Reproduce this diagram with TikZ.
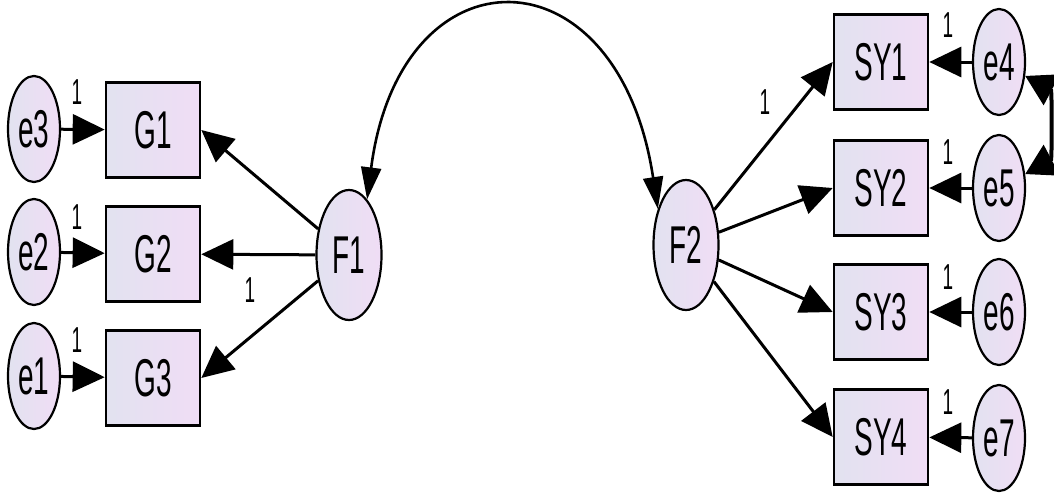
\documentclass[tikz,border=0pt]{standalone}
\usepackage{fontspec}
\setmainfont{Liberation Sans}
\usepackage{graphicx}
\usetikzlibrary{arrows.meta,shapes.geometric}
\definecolor{fillL}{RGB}{226,226,240}
\definecolor{fillR}{RGB}{240,221,245}
\newcommand\tx[1]{\scalebox{1}[1.9]{#1}}
\tikzset{
  obs/.style={draw=black,line width=2.6pt,minimum width=94pt,minimum height=95pt,inner sep=0pt,
    left color=fillL,right color=fillR,font=\fontsize{28}{28}\selectfont},
  lat/.style={ellipse,draw=black,line width=2.2pt,minimum width=65pt,minimum height=130pt,inner sep=0pt,
    left color=fillL,right color=fillR,font=\fontsize{28}{28}\selectfont},
  err/.style={ellipse,draw=black,line width=2.2pt,minimum width=52pt,minimum height=106pt,inner sep=0pt,
    left color=fillL,right color=fillR,font=\fontsize{28}{28}\selectfont},
  path/.style={line width=3pt,-{Triangle[length=32pt,width=30pt]}},
  cov/.style={line width=2.6pt,{Triangle[length=32pt,width=20pt]}-{Triangle[length=32pt,width=20pt]}},
  cov2/.style={line width=4pt,{Triangle[length=30pt,width=34pt]}-{Triangle[length=30pt,width=34pt]}},
  one/.style={font=\fontsize{19}{19}\selectfont,inner sep=0pt}
}
\begin{document}
\begin{tikzpicture}[x=1pt,y=-1pt]
\useasboundingbox (0,0) rectangle (1054,493);
\clip (0,0) rectangle (1054,493);
% observed left
\node[obs] (G1) at (153,130) {\tx{G1}};
\node[obs] (G2) at (153,254) {\tx{G2}};
\node[obs] (G3) at (153,378) {\tx{G3}};
\node[err] (e3) at (34,129) {\tx{e3}};
\node[err] (e2) at (34,252) {\tx{e2}};
\node[err] (e1) at (34,376) {\tx{e1}};
\node[lat] (F1) at (349,255) {\tx{F1}};
% right
\node[obs] (SY1) at (881,62) {\tx{SY1}};
\node[obs] (SY2) at (881,188) {\tx{SY2}};
\node[obs] (SY3) at (881,312) {\tx{SY3}};
\node[obs] (SY4) at (881,437) {\tx{SY4}};
\node[err] (e4) at (999,62) {\tx{e4}};
\node[err] (e5) at (999,188) {\tx{e5}};
\node[err] (e6) at (999,312) {\tx{e6}};
\node[err] (e7) at (999,438) {\tx{e7}};
\node[lat] (F2) at (686,245) {\tx{F2}};
% paths
\draw[path] (e3) -- (G1);
\draw[path] (e2) -- (G2);
\draw[path] (e1) -- (G3);
\draw[path] (F1) -- (G1.east);
\draw[path] (F1) -- (G2);
\draw[path] (F1) -- (G3.east);
\draw[path] (F2) -- (SY1.west);
\draw[path] (F2) -- (SY2.west);
\draw[path] (F2) -- (SY3.west);
\draw[path] (F2) -- (SY4.west);
\draw[path] (e4) -- (SY1);
\draw[path] (e5) -- (SY2);
\draw[path] (e6) -- (SY3);
\draw[path] (e7) -- (SY4);
% covariances
\draw[cov] (F1.72) .. controls (400,-55) and (618,-55) .. (F2.128);
\draw[cov2] (e4.-28) .. controls (1052,90) and (1052,160) .. (e5.28);
% labels
\node[one] (l1) at (77,92) {\tx{1}};
\node[one] (l2) at (77,217) {\tx{1}};
\node[one] (l3) at (77,340) {\tx{1}};
\node[one] (l4) at (250,290) {\tx{1}};
\node[one] (l5) at (765,102) {\tx{1}};
\node[one] (l6) at (948,25) {\tx{1}};
\node[one] (l7) at (948,152) {\tx{1}};
\node[one] (l8) at (948,277) {\tx{1}};
\node[one] (l9) at (948,402) {\tx{1}};
\end{tikzpicture}
\end{document}
